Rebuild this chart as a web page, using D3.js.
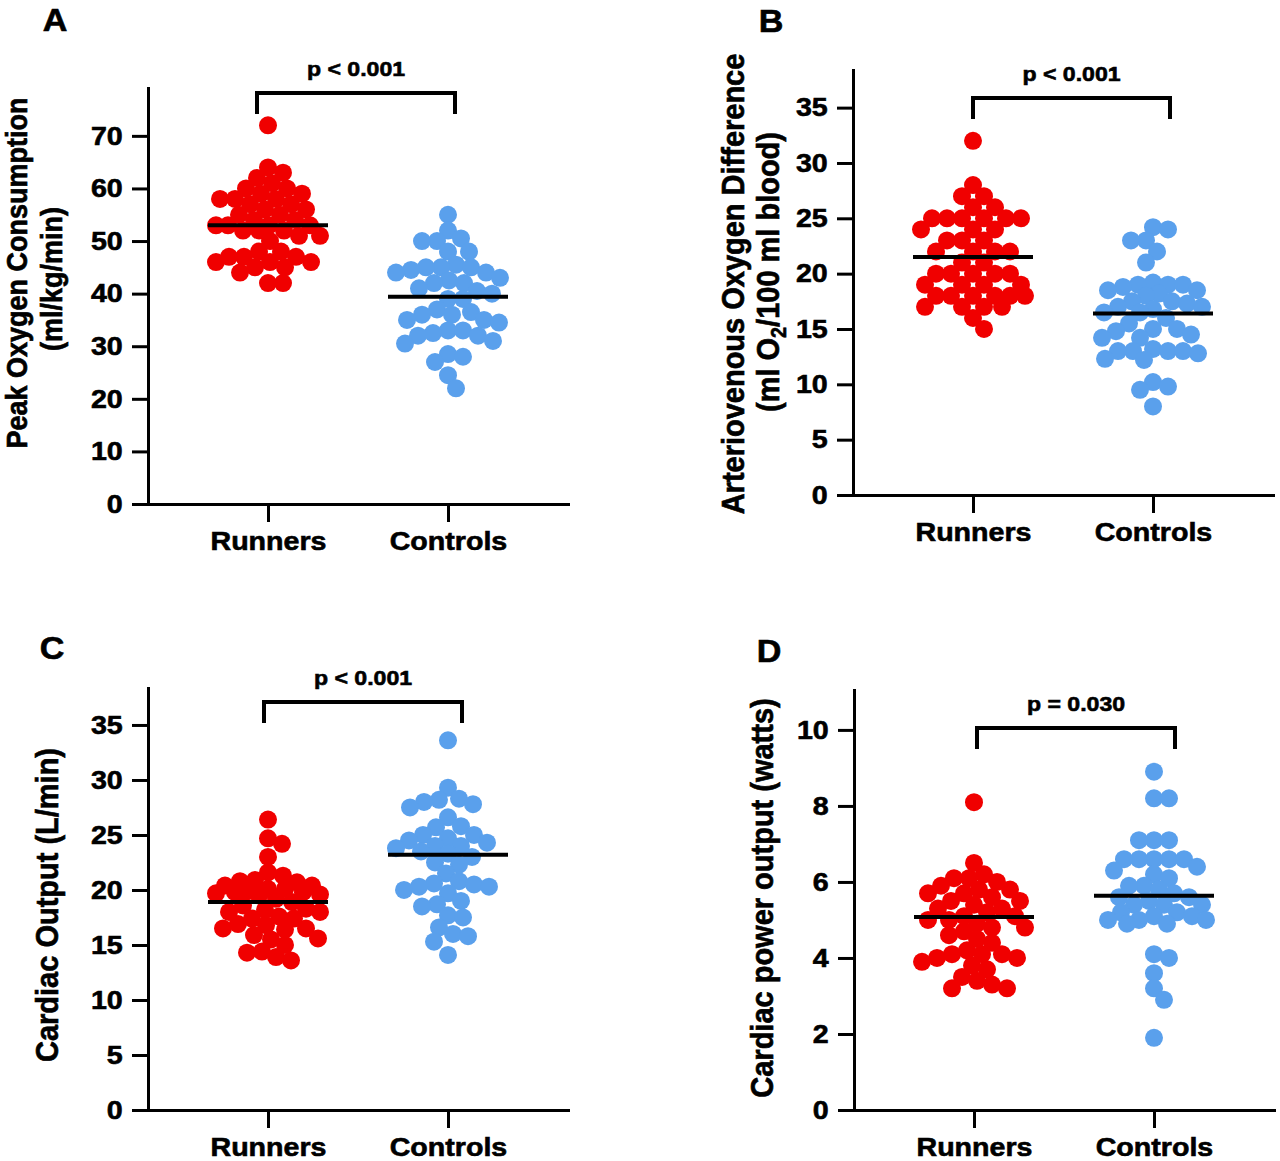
<!DOCTYPE html>
<html>
<head>
<meta charset="utf-8">
<script src="https://cdn.jsdelivr.net/npm/d3@7"></script>
<style>
  body { margin: 0; background: #fff; }
  svg { display: block; }
  text { font-family: "Liberation Sans", Arial, sans-serif; font-weight: bold; fill: #000;
         stroke: #000; stroke-width: 0.6px; }
</style>
</head>
<body>
<svg id="chart" width="1280" height="1161"></svg>
<script>
'use strict';

var groups = ["Runners", "Controls"];

// A - peak oxygen consumption (ml/kg/min)
var vo2Runners = [72, 64, 63, 62, 61, 60, 60, 59, 59, 58, 58, 58, 57, 57, 56, 56, 55, 55, 54, 54,
  53, 53, 53, 53, 52, 52, 52, 51, 51, 50, 48, 48, 47, 47, 47, 46, 46, 46, 45, 45, 44, 42, 42];
var vo2Controls = [55, 52, 50.5, 50, 50, 48, 48, 45.5, 45, 45, 45, 44.5, 44, 44, 43, 42.5, 42, 42, 41,
  40.5, 40, 39, 39, 37, 36.5, 36, 36, 35, 35, 34.5, 33, 33, 32.5, 32, 32, 31, 30.5, 28.5, 28, 27, 24.5, 22];
var vo2Means = [53.0, 39.4];
var vo2Ticks = [0, 10, 20, 30, 40, 50, 60, 70];

// B - arteriovenous oxygen difference (ml O2/100 ml blood)
var avdRunners = [32, 28, 27, 27, 26, 26, 25, 25, 25, 25, 25, 25, 24, 24, 24, 23, 23, 23, 22, 22, 22, 22,
  21, 21, 20, 20, 20, 20, 20, 19, 19, 19, 19, 18, 18, 18, 18, 18, 18, 17, 17, 17, 17, 16, 15];
var avdControls = [24.2, 24, 23, 23, 22, 21, 19.2, 19, 19, 19, 18.8, 18.5, 18.5, 18.2, 18, 17.5, 17.5, 17.3,
  17, 17, 16.8, 16.5, 16.5, 16, 15.5, 15, 15, 14.8, 14.5, 14.2, 14.2, 13.2, 13, 13, 13, 13, 12.8, 12.3,
  12.2, 10.2, 9.8, 9.5, 8];
var avdMeans = [21.5, 16.4];
var avdTicks = [0, 5, 10, 15, 20, 25, 30, 35];

// C - cardiac output (L/min)
var coRunners = [26.4, 24.7, 24.2, 23, 21.6, 21.3, 20.9, 20.8, 20.7, 20.4, 20.4, 20.1, 20.1, 19.9, 19.8,
  19.8, 19.7, 19.6, 19.5, 19.2, 18.9, 18.6, 18.3, 18.2, 18, 18, 17.6, 17.4, 17.4, 16.9, 16.8, 16.5, 16.5,
  16.4, 15.9, 15.6, 15.5, 15, 14.4, 14.3, 13.9, 13.6];
var coControls = [33.6, 29.3, 28.3, 28.2, 28, 27.8, 27.5, 26.6, 25.8, 25.7, 25, 25, 24.7, 24.5, 24.3, 24,
  24, 23.8, 23.5, 23.3, 23, 22.5, 22.3, 21.5, 20.8, 20.6, 20.5, 20.3, 20.3, 20, 19.7, 19, 18.7, 18.5,
  17.7, 17.5, 16.6, 16, 15.8, 15.3, 14.1];
var coMeans = [18.9, 23.2];
var coTicks = [0, 5, 10, 15, 20, 25, 30, 35];

// D - cardiac power output (watts)
var cpoRunners = [8.1, 6.5, 6.2, 6.1, 6.1, 6.0, 5.9, 5.8, 5.8, 5.7, 5.7, 5.6, 5.5, 5.5, 5.4, 5.3, 5.3,
  5.2, 5.1, 5.1, 5.0, 5.0, 4.9, 4.8, 4.8, 4.7, 4.6, 4.5, 4.4, 4.2, 4.1, 4.1, 4.1, 4.0, 4.0, 3.9, 3.8,
  3.7, 3.5, 3.4, 3.3, 3.2, 3.2];
var cpoControls = [8.9, 8.2, 8.2, 7.1, 7.1, 7.1, 6.6, 6.6, 6.6, 6.6, 6.6, 6.4, 6.3, 6.2, 6.1, 5.9, 5.9,
  5.8, 5.7, 5.6, 5.6, 5.5, 5.4, 5.4, 5.4, 5.2, 5.2, 5.1, 5.1, 5.0, 5.0, 5.0, 4.9, 4.9, 4.1, 4.0, 3.6,
  3.2, 2.9, 1.9];
var cpoMeans = [5.08, 5.64];
var cpoTicks = [0, 2, 4, 6, 8, 10];

var pValues = ["p < 0.001", "p < 0.001", "p < 0.001", "p = 0.030"];

var colors = ["#f00000", "#5aa0ec"];
var stretch = 1.1;   // the figure is slightly wider than tall
var dotR = 9;

var panels = [
  { letter: "A", letterX: 55, letterY: 31, left: 148, top: 88, bottom: 504, max: 79.1,
    series: [vo2Runners, vo2Controls], means: vo2Means, ticks: vo2Ticks, p: pValues[0],
    br: { y: 93, l: -11, r: 7 },
    ylab: [{ t: "Peak Oxygen Consumption", x: 27, y: 273 }, { t: "(ml/kg/min)", x: 62, y: 279 }], ysize: 27 },
  { letter: "B", letterX: 771, letterY: 32, left: 853, top: 70, bottom: 495, max: 38.4,
    series: [avdRunners, avdControls], means: avdMeans, ticks: avdTicks, p: pValues[1],
    br: { y: 98, l: 0, r: 17 },
    ylab: [{ t: "Arteriovenous Oxygen Difference", x: 744, y: 284 }, { t: "O2", x: 779, y: 272 }], ysize: 29 },
  { letter: "C", letterX: 52, letterY: 659, left: 148, top: 688, bottom: 1110, max: 38.36,
    series: [coRunners, coControls], means: coMeans, ticks: coTicks, p: pValues[2],
    br: { y: 702, l: -4, r: 14 },
    ylab: [{ t: "Cardiac Output (L/min)", x: 58, y: 905 }], ysize: 29 },
  { letter: "D", letterX: 769, letterY: 662, left: 854, top: 690, bottom: 1110, max: 11.05,
    series: [cpoRunners, cpoControls], means: cpoMeans, ticks: cpoTicks, p: pValues[3],
    br: { y: 728, l: 3, r: 21 },
    ylab: [{ t: "Cardiac power output (watts)", x: 773, y: 898 }], ysize: 29 }
];

var svg = d3.select('#chart');

function stretchedText(g, x, y, size, anchor, str) {
  return g.append('text')
    .attr('transform', 'translate(' + x + ',' + y + ') scale(' + stretch + ',1)')
    .attr('text-anchor', anchor)
    .attr('font-size', size)
    .text(str);
}

// greedy beeswarm: each dot goes as close to the category centre as it can,
// within a maximum half-width; when nothing is free it takes the least crowded spot
function swarm(values, y, cx, minDist, maxW) {
  var placed = [];
  values.slice().sort(function (a, b) { return b - a; }).forEach(function (v) {
    var py = y(v);
    var best = null, bestD = -1;
    for (var k = 0; k <= 2 * maxW; k++) {
      var off = (k % 2 ? 1 : -1) * Math.ceil(k / 2);
      var dmin = Infinity;
      placed.forEach(function (q) {
        var dx = q.x - (cx + off), dy = q.y - py;
        dmin = Math.min(dmin, Math.sqrt(dx * dx + dy * dy));
      });
      if (dmin >= minDist) { best = off; break; }
      if (dmin > bestD) { bestD = dmin; best = off; }
    }
    placed.push({ v: v, x: cx + best, y: py });
  });
  return placed;
}

panels.forEach(function (p) {
  var g = svg.append('g');
  var y = d3.scaleLinear().domain([0, p.max]).range([p.bottom, p.top]);
  var x = d3.scalePoint().domain(groups).range([p.left, p.left + 420]).padding(2 / 3);

  // dots
  p.series.forEach(function (vals, i) {
    var pts = swarm(vals, y, x(groups[i]), 15, 52);
    g.append('g')
      .selectAll('circle')
      .data(pts)
      .enter()
      .append('circle')
      .attr('cx', function (d) { return d.x; })
      .attr('cy', function (d) { return d.y; })
      .attr('r', dotR)
      .attr('fill', colors[i]);
  });

  // mean lines
  g.append('g')
    .selectAll('line')
    .data(p.means)
    .enter()
    .append('line')
    .attr('x1', function (d, i) { return x(groups[i]) - 60; })
    .attr('x2', function (d, i) { return x(groups[i]) + 60; })
    .attr('y1', function (d) { return y(d); })
    .attr('y2', function (d) { return y(d); })
    .attr('stroke', '#000')
    .attr('stroke-width', 4);

  // axes
  var yAxis = g.append('g')
    .attr('transform', 'translate(' + p.left + ',0)')
    .call(d3.axisLeft(y).tickValues(p.ticks).tickSize(16).tickSizeOuter(0).tickPadding(7));
  var xAxis = g.append('g')
    .attr('transform', 'translate(0,' + p.bottom + ')')
    .call(d3.axisBottom(x).tickSize(18).tickSizeOuter(0).tickPadding(10));
  [yAxis, xAxis].forEach(function (a) {
    a.select('.domain').attr('stroke-width', 3).attr('stroke-linecap', 'square');
    a.selectAll('.tick line').attr('stroke-width', 3);
    a.selectAll('.tick text')
      .attr('fill', '#000')
      .attr('font-family', '"Liberation Sans", Arial, sans-serif')
      .attr('font-weight', 'bold');
  });
  yAxis.selectAll('.tick text').attr('font-size', 26).attr('transform', 'scale(' + stretch + ',1)');
  xAxis.selectAll('.tick text').attr('font-size', 26).attr('transform', 'scale(' + stretch + ',1)');

  // significance bracket
  var bx1 = x(groups[0]) + p.br.l, bx2 = x(groups[1]) + p.br.r;
  g.append('path')
    .attr('d', 'M' + bx1 + ',' + (p.br.y + 21) + 'V' + p.br.y + 'H' + bx2 + 'V' + (p.br.y + 21))
    .attr('fill', 'none')
    .attr('stroke', '#000')
    .attr('stroke-width', 4);
  stretchedText(g, (bx1 + bx2) / 2, p.br.y - 17, 21, 'middle', p.p);

  // panel letter
  stretchedText(g, p.letterX, p.letterY, 31, 'middle', p.letter);

  // y axis title
  p.ylab.forEach(function (l) {
    var t = g.append('text')
      .attr('transform', 'translate(' + l.x + ',' + l.y + ') scale(' + stretch + ',1) rotate(-90)')
      .attr('text-anchor', 'middle')
      .attr('font-size', p.ysize);
    if (l.t === "O2") {
      t.append('tspan').text('(ml O');
      t.append('tspan').attr('dy', 6).attr('font-size', p.ysize * 0.68).text('2');
      t.append('tspan').attr('dy', -6).text('/100 ml blood)');
    } else {
      t.text(l.t);
    }
  });
});
</script>
</body>
</html>
